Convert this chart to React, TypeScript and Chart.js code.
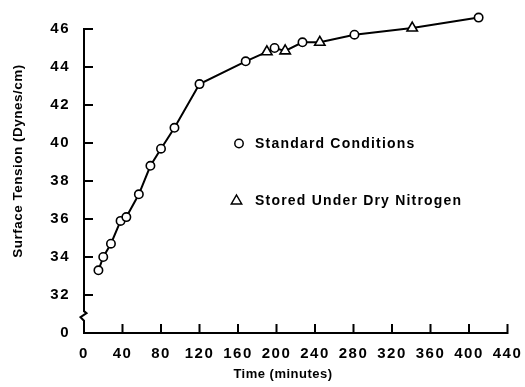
import React, { useEffect, useRef } from "react";
import { Chart, registerables } from "chart.js";

Chart.register(...registerables);

// ---- data ----
const standardTime = [15, 20, 28, 38, 44, 57, 69, 80, 94, 120, 168, 198, 227, 281, 410];
const standardTension = [33.3, 34.0, 34.7, 35.9, 36.1, 37.3, 38.8, 39.7, 40.8, 43.1, 44.3, 45.0, 45.3, 45.7, 46.6];
const nitrogenTime = [190, 209, 245, 341];
const nitrogenTension = [44.8, 44.85, 45.3, 46.05];
const xTickValues = [0, 40, 80, 120, 160, 200, 240, 280, 320, 360, 400, 440];
const yTickValues = [30, 32, 34, 36, 38, 40, 42, 44, 46];
const yTickLabels = ["0", "32", "34", "36", "38", "40", "42", "44", "46"];
const legendLabels = ["Standard Conditions", "Stored Under Dry Nitrogen"];
const xTitle = "Time (minutes)";
const yTitle = "Surface Tension (Dynes/cm)";

const FONT = "'Liberation Sans', Arial, Helvetica, sans-serif";

const allPoints = [
  ...standardTime.map((t, i) => ({ x: t, y: standardTension[i] })),
  ...nitrogenTime.map((t, i) => ({ x: t, y: nitrogenTension[i] })),
].sort((a, b) => a.x - b.x);

const decorPlugin = {
  id: "decor",
  beforeDraw(chart: any) {
    (chart.ctx as any).letterSpacing = "1.5px";
  },
  beforeDatasetsDraw(chart: any) {
    const { ctx } = chart;
    const x = chart.scales.x;
    const y = chart.scales.y;
    const x0 = x.getPixelForValue(0);
    const x1 = x.getPixelForValue(440);
    const yb = y.getPixelForValue(30);
    const yt = y.getPixelForValue(46);
    const brTop = y.getPixelForValue(31.15);
    const brBot = y.getPixelForValue(30.7);
    ctx.save();
    ctx.strokeStyle = "#000";
    ctx.lineWidth = 2;
    ctx.lineJoin = "miter";
    ctx.beginPath();
    // x axis
    ctx.moveTo(x0 - 1, yb);
    ctx.lineTo(x1 + 1, yb);
    for (const v of xTickValues.slice(1)) {
      const px = x.getPixelForValue(v);
      ctx.moveTo(px, yb);
      ctx.lineTo(px, yb - 9);
    }
    ctx.stroke();
    // y axis with break
    ctx.beginPath();
    ctx.moveTo(x0, yt - 1);
    ctx.lineTo(x0, brTop);
    ctx.lineTo(x0 + 2.5, brTop + 2);
    ctx.lineTo(x0 - 3.5, brTop + 6);
    ctx.lineTo(x0, brBot + 1);
    ctx.lineTo(x0, yb);
    ctx.stroke();
    ctx.beginPath();
    for (const v of yTickValues.slice(1)) {
      const py = y.getPixelForValue(v);
      ctx.moveTo(x0, py);
      ctx.lineTo(x0 + 9, py);
    }
    ctx.stroke();
    ctx.restore();
  },
  afterDraw(chart: any) {
    const { ctx } = chart;
    ctx.save();
    ctx.fillStyle = "#000";
    ctx.strokeStyle = "#000";
    // titles
    (ctx as any).letterSpacing = "0.5px";
    ctx.font = `bold 13px ${FONT}`;
    ctx.textAlign = "center";
    ctx.textBaseline = "middle";
    ctx.fillText(xTitle, 283, 374);
    ctx.save();
    ctx.translate(18, 161);
    ctx.rotate(-Math.PI / 2);
    ctx.font = `bold 13.5px ${FONT}`;
    ctx.fillText(yTitle, 0, 0);
    ctx.restore();
    // legend
    ctx.lineWidth = 1.5;
    ctx.beginPath();
    ctx.arc(239, 143.5, 4.2, 0, Math.PI * 2);
    ctx.stroke();
    const tx = 236.5, ty = 201, r = 6;
    ctx.beginPath();
    ctx.moveTo(tx, ty - r);
    ctx.lineTo(tx + r * 0.866, ty + r / 2);
    ctx.lineTo(tx - r * 0.866, ty + r / 2);
    ctx.closePath();
    ctx.stroke();
    (ctx as any).letterSpacing = "1.2px";
    ctx.font = `bold 14px ${FONT}`;
    ctx.textAlign = "left";
    ctx.fillText(legendLabels[0], 255, 144);
    ctx.fillText(legendLabels[1], 255, 201);
    ctx.restore();
    (ctx as any).letterSpacing = "0px";
  },
};

export default function App() {
  const ref = useRef<HTMLCanvasElement | null>(null);
  useEffect(() => {
    if (!ref.current) return;
    const chart = new Chart(ref.current, {
      type: "scatter",
      data: {
        datasets: [
          {
            type: "line",
            data: allPoints,
            borderColor: "#000",
            borderWidth: 2,
            pointRadius: 0,
            fill: false,
            tension: 0,
            order: 3,
          } as any,
          {
            data: standardTime.map((t, i) => ({ x: t, y: standardTension[i] })),
            pointStyle: "circle",
            pointRadius: 4.2,
            borderWidth: 1.6,
            borderColor: "#000",
            backgroundColor: "#fff",
            order: 1,
          },
          {
            data: nitrogenTime.map((t, i) => ({ x: t, y: nitrogenTension[i] })),
            pointStyle: "triangle",
            pointRadius: 6,
            borderWidth: 1.6,
            borderColor: "#000",
            backgroundColor: "#fff",
            order: 1,
          },
        ],
      },
      options: {
        animation: false,
        responsive: true,
        maintainAspectRatio: false,
        layout: { padding: { top: 10, right: 17.5, left: 0, bottom: 0 } },
        plugins: { legend: { display: false }, tooltip: { enabled: false } },
        scales: {
          x: {
            type: "linear",
            min: 0,
            max: 440,
            grid: { display: false, drawTicks: false },
            border: { display: false },
            afterBuildTicks: (s: any) => {
              s.ticks = xTickValues.map((v) => ({ value: v }));
            },
            afterFit: (s: any) => {
              s.height = 54;
              s.paddingLeft = 0;
              s.paddingRight = 0;
            },
            ticks: {
              color: "#000",
              font: { family: FONT, size: 15, weight: "bold" },
              padding: 12,
              maxRotation: 0,
              autoSkip: false,
            },
          },
          y: {
            type: "linear",
            min: 30,
            max: 47,
            grid: { display: false, drawTicks: false },
            border: { display: false },
            afterBuildTicks: (s: any) => {
              s.ticks = yTickValues.map((v) => ({ value: v }));
            },
            afterFit: (s: any) => {
              s.width = 84;
              s.paddingTop = 0;
              s.paddingBottom = 0;
            },
            ticks: {
              color: "#000",
              font: { family: FONT, size: 15, weight: "bold" },
              padding: 14,
              autoSkip: false,
              callback: (_v: any, i: number) => yTickLabels[i],
            },
          },
        },
      },
      plugins: [decorPlugin],
    });
    return () => chart.destroy();
  }, []);
  return (
    <div style={{ position: "fixed", left: 0, top: 0, width: 525, height: 387, background: "#fff" }}>
      <canvas ref={ref} />
    </div>
  );
}
